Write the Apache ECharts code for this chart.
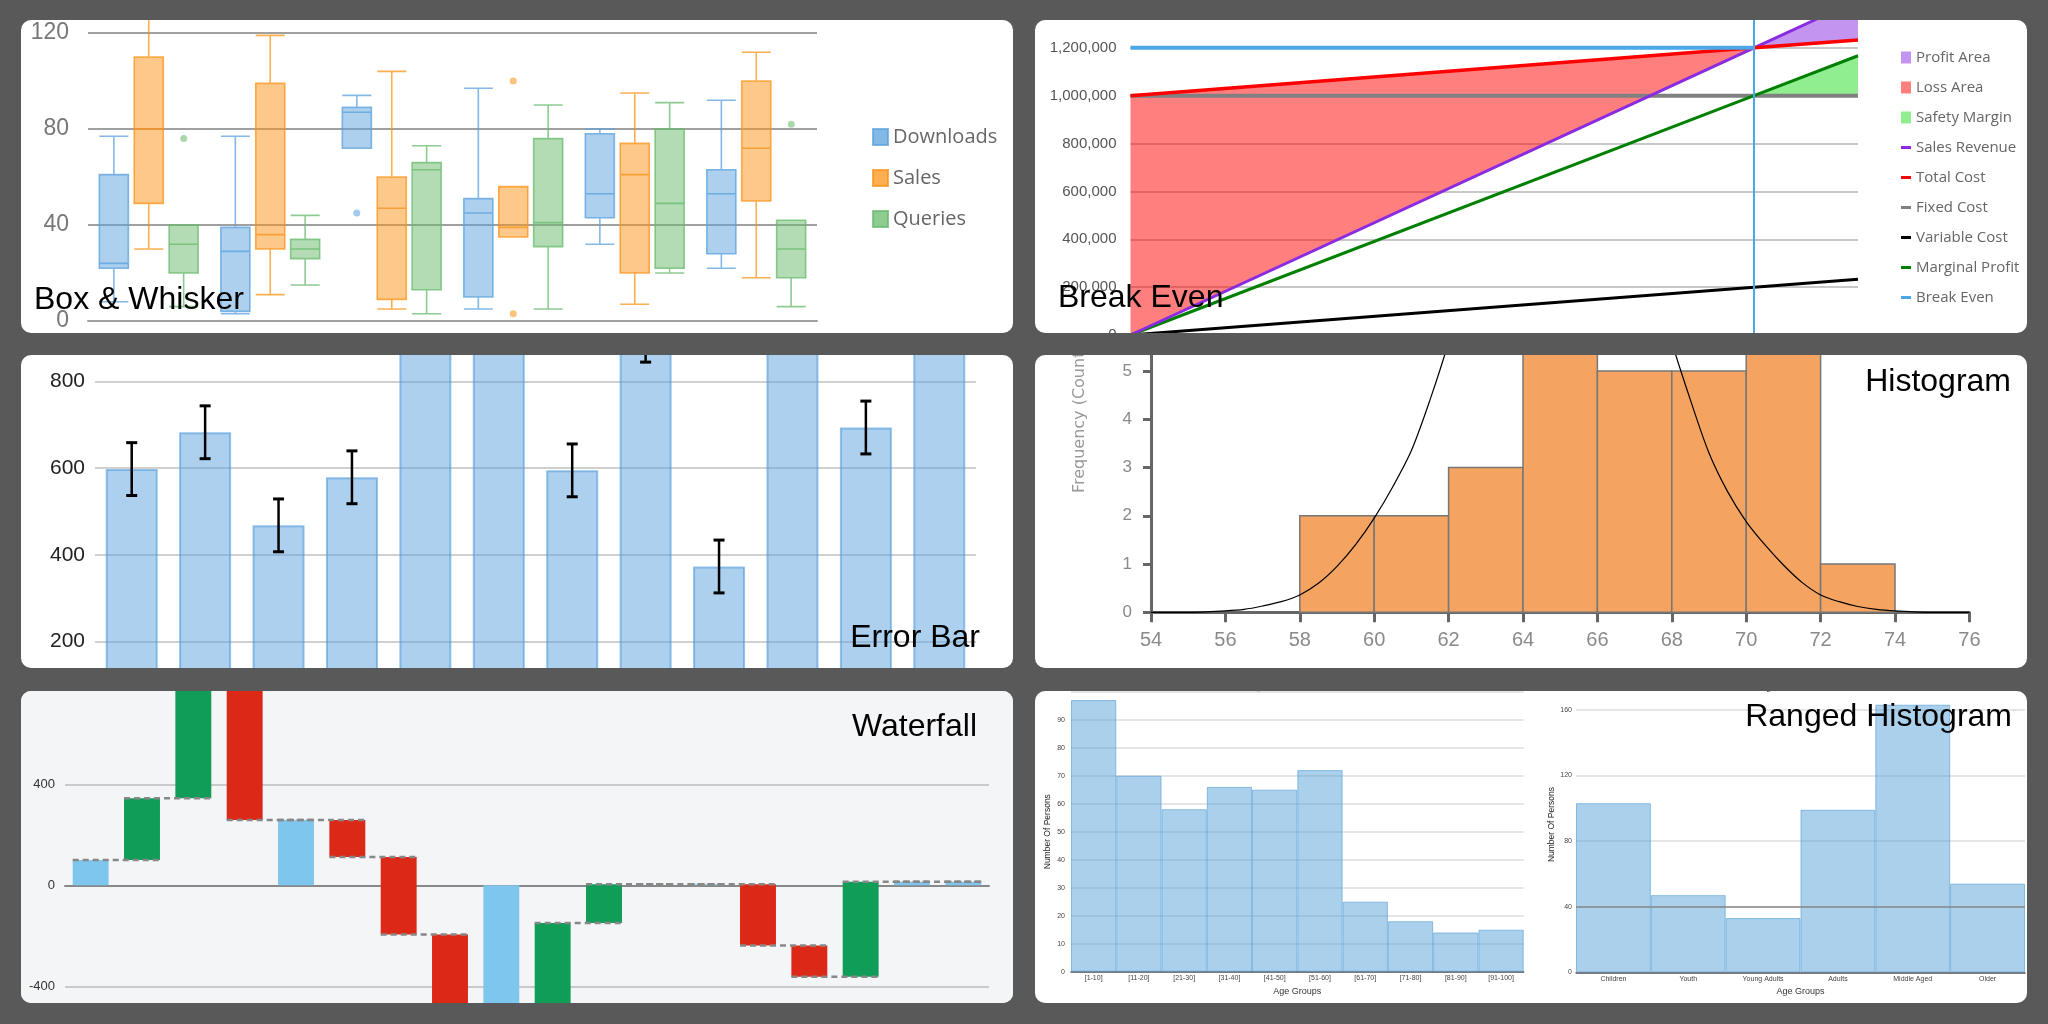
<!DOCTYPE html>
<html><head><meta charset="utf-8">
<script src="https://cdn.jsdelivr.net/npm/echarts@6/dist/echarts.min.js"></script>
<style>
html,body{margin:0;padding:0;background:#595959;width:2048px;height:1024px;overflow:hidden}
.panel{position:absolute;background:#fff;border-radius:10px;overflow:hidden}
.panel > div{position:absolute;left:0;top:0;width:100%;height:100%}
.panel > div.tall{top:-200px;height:calc(100% + 400px)}
</style></head><body>
<div class="panel" style="left:21px;top:20px;width:992px;height:313px"><div id="c1"></div></div>
<div class="panel" style="left:1035px;top:20px;width:992px;height:313px"><div id="c2" class="tall"></div></div>
<div class="panel" style="left:21px;top:355px;width:992px;height:313px"><div id="c3" class="tall"></div></div>
<div class="panel" style="left:1035px;top:355px;width:992px;height:313px"><div id="c4" class="tall"></div></div>
<div class="panel" style="left:21px;top:691px;width:992px;height:312px;background:#f4f5f7"><div id="c5" class="tall"></div></div>
<div class="panel" style="left:1035px;top:691px;width:992px;height:312px"><div id="c6"></div></div>
<script>
// ---------- Box & Whisker data ([min, Q1, median, Q3, max]) ----------
const boxCategories = ['Group 1','Group 2','Group 3','Group 4','Group 5','Group 6'];
const downloadsBox = [[8,22,24,61,77],[3,4,29,39,77],[72,72,87,89,94],[5,10,45,51,97],[32,43,53,78,80],[22,28,53,63,92]];
const salesBox = [[30,49,80,110,135],[11,30,36,99,119],[5,9,47,60,104],[35,35,39,56,56],[7,20,61,74,95],[18,50,72,100,112]];
const queriesBox = [[6,20,32,40,40],[15,26,30,34,44],[3,13,63,66,73],[5,31,41,76,90],[20,22,49,80,91],[6,18,30,42,42]];
const downloadsOutliers = [[2,45]];
const salesOutliers = [[3,100],[3,3]];
const queriesOutliers = [[0,76],[5,82]];

// ---------- Break Even data ----------
const beUnits = [0, 6000, 7000];
const beSalesRevenue = [0, 1200000, 1400000];
const beTotalCost = [1000000, 1200000, 1233000];
const beFixedCost = [1000000, 1000000, 1000000];
const beVariableCost = [0, 200000, 233000];
const beMarginalProfit = [0, 1000000, 1167000];
const beBreakEvenUnits = 6000;
const beBreakEvenRevenue = 1200000;

// ---------- Error Bar data ----------
const ebCategories = ['Jan','Feb','Mar','Apr','May','Jun','Jul','Aug','Sep','Oct','Nov','Dec'];
const ebValues = [598, 683, 468, 579, 960, 1000, 595, 906, 373, 980, 694, 1020];
const ebErrors = [61, 61, 61, 61, 61, 61, 61, 61, 61, 61, 61, 61];

// ---------- Histogram data ----------
const histBinStarts = [58, 60, 62, 64, 66, 68, 70, 72];
const histBinEnds = [60, 62, 64, 66, 68, 70, 72, 74];
const histCounts = [2, 2, 3, 6, 5, 5, 6, 1];
const curveX = [54,55,56,56.5,57,57.5,58,58.5,59,59.5,60,60.5,61,61.5,62,62.5,63,63.5,64,64.5,65,65.5,66,66.5,67,67.5,68,68.5,69,69.5,70,70.5,71,71.5,72,72.5,73,73.5,74,75,76];
const curveY = [0,0,0.03,0.06,0.13,0.22,0.36,0.6,0.95,1.4,1.95,2.6,3.35,4.4,5.6,7.0,8.4,9.6,10.5,11.1,11.3,11.1,10.5,9.6,8.4,7.0,5.6,4.4,3.3,2.5,1.88,1.4,0.98,0.62,0.36,0.22,0.12,0.06,0.03,0,0];

// ---------- Waterfall data ----------
const wfCategories = ['C1','C2','C3','C4','C5','C6','C7','C8','C9','C10','C11','C12','C13','C14','C15','C16','C17','C18'];
const wfTypes = ['total','inc','inc','dec','total','dec','dec','dec','total','inc','inc','inc','total','dec','dec','inc','total','total'];
const wfLevels = [100, 345, 800, 259, 259, 112, -195, -520, -520, -149, 4, 4, 4, -238, -362, 14, 14, 14];

// ---------- Ranged Histogram data ----------
const ageRanges = ['[1-10]','[11-20]','[21-30]','[31-40]','[41-50]','[51-60]','[61-70]','[71-80]','[81-90]','[91-100]'];
const ageRangeCounts = [97, 70, 58, 66, 65, 72, 25, 18, 14, 15];
const ageGroups = ['Children','Youth','Young Adults','Adults','Middle Aged','Older'];
const ageGroupCounts = [103, 47, 33, 99, 163, 54];
const ageGroupRefLine = 40;

const OFF = 200; // extra canvas above/below the panel for the tall chart containers
const TITLE_FONT = "'Liberation Sans', Arial, sans-serif";
const NARROW = "'Liberation Sans Narrow', 'Liberation Sans', sans-serif";
function titleText(text, x, y, align) {
  return {type:'text', x:x, y:y, z:100, style:{text:text, fontSize:32, fontFamily:TITLE_FONT, fill:'#000', align:align, verticalAlign:'middle'}};
}
const LINE_ICON = 'path://M0,0M10,12M0,4.5L10,4.5L10,7.5L0,7.5Z';

// ================= Chart 1: Box & Whisker =================
(function(){
  const c = echarts.init(document.getElementById('c1'));
  const blue = 'rgba(89,161,221,', orange = 'rgba(251,147,23,', green = 'rgba(103,185,107,';
  function box(name, data, col) {
    return {name:name, type:'boxplot', data:data, boxWidth:[29,29], z:2,
      itemStyle:{color:col+'0.5)', borderColor:col+'0.75)', borderWidth:1.6}};
  }
  function outl(data, col, off) {
    return {type:'scatter', data:data, symbolSize:7, symbolOffset:[off,0], z:3,
      itemStyle:{color:col+'0.7)'}};
  }
  c.setOption({
    animation:false,
    grid:{left:67, right:196, top:13, bottom:12, outerBoundsMode:'none'},
    legend:{orient:'vertical', left:846, top:102, itemWidth:15, itemHeight:16, itemGap:21, icon:'rect',
      textStyle:{fontFamily:"'Open Sans', sans-serif", fontSize:20, color:'#666'},
      data:['Downloads','Sales','Queries']},
    xAxis:{type:'category', data:boxCategories,
      axisLine:{lineStyle:{color:'#a0a0a0', width:2}},
      axisTick:{alignWithLabel:true, length:6, lineStyle:{color:'#a0a0a0', width:1.5}},
      axisLabel:{show:false}, splitLine:{show:false}},
    yAxis:{type:'value', min:0, max:120, interval:40,
      axisLine:{show:false}, axisTick:{show:false},
      axisLabel:{fontFamily:NARROW, fontSize:23, color:'#777', margin:19},
      splitLine:{lineStyle:{color:'#a0a0a0', width:2}}},
    graphic:[titleText('Box & Whisker', 13, 280, 'left')],
    series:[
      box('Downloads', downloadsBox, blue),
      box('Sales', salesBox, orange),
      box('Queries', queriesBox, green),
      outl(downloadsOutliers, blue, -35),
      outl(salesOutliers, orange, 0),
      outl(queriesOutliers, green, 35)
    ]
  });
})();

// ================= Chart 2: Break Even =================
(function(){
  const c = echarts.init(document.getElementById('c2'));
  function pairs(ys) { return beUnits.map((u,i)=>[u, ys[i]]); }
  function poly(name, pts, color) {
    return {name:name, type:'custom', data:[[pts[0][0], pts[0][1]]], itemStyle:{color:color}, z:1,
      renderItem:function(params, api){
        return {type:'polygon', shape:{points:pts.map(p=>api.coord(p))}, style:{fill:color}};
      }};
  }
  function line(name, ys, color, width) {
    return {name:name, type:'line', data:pairs(ys), symbol:'none', z:3,
      lineStyle:{color:color, width:width}, itemStyle:{color:color}};
  }
  const lossPts = [[beUnits[0], beTotalCost[0]], [beUnits[1], beTotalCost[1]], [beUnits[0], beSalesRevenue[0]]];
  const profitPts = [[beUnits[1], beSalesRevenue[1]], [beUnits[2], beSalesRevenue[2]], [beUnits[2], beTotalCost[2]]];
  const safetyPts = [[beUnits[1], beFixedCost[1]], [beUnits[2], beMarginalProfit[2]], [beUnits[2], beFixedCost[2]]];
  const lineNames = ['Sales Revenue','Total Cost','Fixed Cost','Variable Cost','Marginal Profit','Break Even'];
  c.setOption({
    animation:false,
    grid:{left:95.5, right:169, top:-20+OFF, bottom:-2+OFF, outerBoundsMode:'none'},
    legend:{orient:'vertical', left:861, top:25+OFF, itemWidth:10, itemHeight:12, itemGap:15,
      textStyle:{fontFamily:"'Open Sans', sans-serif", fontSize:15, color:'#666'},
      data:[{name:'Profit Area', icon:'rect'},{name:'Loss Area', icon:'rect'},{name:'Safety Margin', icon:'rect'}]
        .concat(lineNames.map(n=>({name:n, icon:LINE_ICON})))},
    xAxis:{type:'value', min:0, max:7000, show:false},
    yAxis:{type:'value', min:0, max:1400000, interval:200000,
      axisLine:{show:false}, axisTick:{show:false},
      axisLabel:{fontFamily:"'Liberation Sans', sans-serif", fontSize:15, color:'#555', margin:14,
        formatter:function(v){ return v.toLocaleString('en-US'); }},
      splitLine:{lineStyle:{color:'#c8c8c8', width:2}}},
    graphic:[titleText('Break Even', 23, 278+OFF, 'left')],
    series:[
      poly('Profit Area', profitPts, 'rgba(138,43,226,0.5)'),
      poly('Loss Area', lossPts, 'rgba(255,0,0,0.5)'),
      poly('Safety Margin', safetyPts, '#90ee90'),
      line('Fixed Cost', beFixedCost, '#808080', 4),
      line('Variable Cost', beVariableCost, '#000000', 3),
      line('Marginal Profit', beMarginalProfit, '#008000', 3),
      line('Sales Revenue', beSalesRevenue, '#8a2be2', 3),
      line('Total Cost', beTotalCost, '#ff0000', 3.5),
      {name:'Break Even', type:'line', symbol:'none', z:4,
        data:[[beUnits[0], beBreakEvenRevenue], [beBreakEvenUnits, beBreakEvenRevenue]],
        lineStyle:{color:'#4aa8e8', width:4}, itemStyle:{color:'#4aa8e8'},
        markLine:{silent:true, symbol:'none', label:{show:false},
          lineStyle:{color:'#4aa8e8', width:2, type:'solid'}, data:[{xAxis:beBreakEvenUnits}]}}
    ]
  });
})();

// ================= Chart 3: Error Bar =================
(function(){
  const c = echarts.init(document.getElementById('c3'));
  c.setOption({
    animation:false,
    grid:{left:74, right:37, top:-60+OFF, bottom:-60+OFF, outerBoundsMode:'none'},
    xAxis:{type:'category', data:ebCategories, axisLine:{show:false}, axisTick:{show:false}, axisLabel:{show:false}},
    yAxis:{type:'value', min:0, max:1000, interval:200,
      axisLine:{show:false}, axisTick:{show:false},
      axisLabel:{fontFamily:"'Liberation Sans', sans-serif", fontSize:21, color:'#222', margin:10},
      splitLine:{lineStyle:{color:'#d0d0d0', width:2}}},
    graphic:[titleText('Error Bar', 959, 283+OFF, 'right')],
    series:[
      {type:'bar', data:ebValues, barWidth:52,
        itemStyle:{color:'rgba(89,161,221,0.5)', borderColor:'rgba(80,155,220,0.6)', borderWidth:2}},
      {type:'custom', z:10, encode:{x:0, y:[1,2]},
        data:ebValues.map((v,i)=>[i, v - ebErrors[i], v + ebErrors[i]]),
        renderItem:function(params, api){
          const x = api.value(0);
          const lo = api.coord([x, api.value(1)]);
          const hi = api.coord([x, api.value(2)]);
          const hw = 5.5;
          return {type:'group', children:[
            {type:'line', shape:{x1:lo[0], y1:lo[1], x2:hi[0], y2:hi[1]}, style:{stroke:'#000', lineWidth:2.5}},
            {type:'line', shape:{x1:lo[0]-hw, y1:lo[1], x2:lo[0]+hw, y2:lo[1]}, style:{stroke:'#000', lineWidth:3}},
            {type:'line', shape:{x1:hi[0]-hw, y1:hi[1], x2:hi[0]+hw, y2:hi[1]}, style:{stroke:'#000', lineWidth:3}}
          ]};
        }}
    ]
  });
})();

// ================= Chart 4: Histogram =================
(function(){
  const c = echarts.init(document.getElementById('c4'));
  c.setOption({
    animation:false,
    grid:{left:116, right:57.6, top:-128.9+OFF, bottom:55.7+OFF, outerBoundsMode:'none'},
    xAxis:{type:'value', min:54, max:76, interval:2,
      axisLine:{lineStyle:{color:'#666', width:3}},
      axisTick:{length:10, lineStyle:{color:'#666', width:3}},
      axisLabel:{fontFamily:"'Liberation Sans', sans-serif", fontSize:20, color:'#8a8a8a', margin:18},
      splitLine:{show:false}},
    yAxis:{type:'value', min:0, max:8, interval:1,
      name:'Frequency (Count)', nameLocation:'middle', nameGap:63,
      nameTextStyle:{fontFamily:"'DejaVu Sans', sans-serif", fontSize:16, color:'#999'},
      axisLine:{show:true, lineStyle:{color:'#666', width:3}},
      axisTick:{show:true, length:8, lineStyle:{color:'#666', width:3}},
      axisLabel:{fontFamily:"'Liberation Sans', sans-serif", fontSize:17, color:'#8a8a8a', margin:19},
      splitLine:{show:false}},
    graphic:[titleText('Histogram', 976, 27+OFF, 'right')],
    series:[
      {type:'custom', encode:{x:[0,1], y:2}, z:2,
        data:histCounts.map((n,i)=>[histBinStarts[i], histBinEnds[i], n]),
        renderItem:function(params, api){
          const p0 = api.coord([api.value(0), 0]);
          const p1 = api.coord([api.value(1), api.value(2)]);
          return {type:'rect', shape:{x:p0[0], y:p1[1], width:p1[0]-p0[0], height:p0[1]-p1[1]},
            style:{fill:'#f4a460', stroke:'#777', lineWidth:1.5}};
        }},
      {type:'line', data:curveX.map((x,i)=>[x, curveY[i]]), smooth:0.3, symbol:'none', z:5,
        lineStyle:{color:'#000', width:1.2}}
    ]
  });
})();

// ================= Chart 5: Waterfall =================
(function(){
  const c = echarts.init(document.getElementById('c5'));
  const colors = {total:'#7fc6ee', inc:'#0f9d58', dec:'#dc2917'};
  const n = wfLevels.length;
  c.setOption({
    animation:false,
    backgroundColor:'#f4f5f7',
    grid:{left:44, right:24, top:-7.7+OFF, bottom:-84.3+OFF, outerBoundsMode:'none'},
    xAxis:{type:'category', data:wfCategories,
      axisLine:{onZero:true, lineStyle:{color:'#888', width:2}},
      axisTick:{show:false}, axisLabel:{show:false}},
    yAxis:{type:'value', min:-800, max:800, interval:400,
      axisLine:{show:false}, axisTick:{show:false},
      axisLabel:{fontFamily:"'Liberation Sans', sans-serif", fontSize:13, color:'#333', margin:10},
      splitLine:{lineStyle:{color:'#bbb', width:1.5}}},
    graphic:[titleText('Waterfall', 956, 36+OFF, 'right')],
    series:[
      {type:'custom', encode:{x:0, y:[1,2]}, z:2,
        data:wfLevels.map((v,i)=>[i, wfTypes[i]==='total' ? 0 : wfLevels[i-1], v]),
        renderItem:function(params, api){
          const i = api.value(0);
          const a = api.coord([i, api.value(1)]);
          const b = api.coord([i, api.value(2)]);
          const w = api.size([1,0])[0] * 0.7;
          return {type:'rect', shape:{x:a[0]-w/2, y:Math.min(a[1],b[1]), width:w, height:Math.abs(a[1]-b[1])},
            style:{fill:colors[wfTypes[params.dataIndex]]}};
        }},
      {type:'custom', encode:{x:0, y:1}, z:3,
        data:wfLevels.map((v,i)=>[i, v]),
        renderItem:function(params, api){
          const i = api.value(0);
          const p = api.coord([i, api.value(1)]);
          const band = api.size([1,0])[0];
          const hw = band * 0.35;
          const x2 = (params.dataIndex < n-1) ? p[0] + band + hw : p[0] + hw;
          return {type:'line', shape:{x1:p[0]-hw, y1:p[1], x2:x2, y2:p[1]},
            style:{stroke:'#888', lineWidth:2.5, lineDash:[6,4]}};
        }}
    ]
  });
})();

// ================= Chart 6: Ranged Histogram =================
(function(){
  const c = echarts.init(document.getElementById('c6'));
  const barStyle = {color:'rgba(87,161,217,0.5)', borderColor:'rgba(87,161,217,0.65)', borderWidth:1};
  const small = "'Liberation Sans', sans-serif";
  function xAx(idx, data) {
    return {type:'category', gridIndex:idx, data:data,
      axisLine:{lineStyle:{color:'#555', width:1.5}}, axisTick:{show:false},
      axisLabel:{fontFamily:small, fontSize:7, color:'#444', margin:3, interval:0},
      name:'Age Groups', nameLocation:'middle', nameGap:13,
      nameTextStyle:{fontFamily:small, fontSize:9, color:'#333'}};
  }
  function yAx(idx, max, interval, gap, margin) {
    return {type:'value', gridIndex:idx, min:0, max:max, interval:interval,
      axisLine:{show:false}, axisTick:{show:false},
      axisLabel:{fontFamily:small, fontSize:7, color:'#444', margin:margin, showMaxLabel:false},
      splitLine:{lineStyle:{color:'#dcdcdc', width:1.5}},
      name:'Number Of Persons', nameLocation:'middle', nameGap:gap,
      nameTextStyle:{fontFamily:small, fontSize:8.5, color:'#222'}};
  }
  c.setOption({
    animation:false,
    grid:[{left:36, right:503.3, top:0.7, bottom:31.3, outerBoundsMode:'none'},
          {left:541, right:2, top:-14.2, bottom:30.7, outerBoundsMode:'none'}],
    xAxis:[xAx(0, ageRanges), xAx(1, ageGroups)],
    yAxis:[yAx(0, 100, 10, 19, 6), yAx(1, 180, 40, 16, 4)],
    graphic:[
      {type:'text', x:247, y:-3, style:{text:'Age Distribution', fontSize:9, fontFamily:small, fill:'#333', align:'center', verticalAlign:'middle'}},
      {type:'text', x:757, y:-3, style:{text:'Age Distribution', fontSize:9, fontFamily:small, fill:'#333', align:'center', verticalAlign:'middle'}},
      titleText('Ranged Histogram', 977, 26, 'right')
    ],
    series:[
      {type:'bar', xAxisIndex:0, yAxisIndex:0, data:ageRangeCounts, barWidth:'100%', itemStyle:barStyle},
      {type:'bar', xAxisIndex:1, yAxisIndex:1, data:ageGroupCounts, barWidth:'100%', itemStyle:barStyle, clip:false,
        markLine:{silent:true, symbol:'none', label:{show:false},
          lineStyle:{color:'#8a8a8a', width:1.5, type:'solid'}, data:[{yAxis:ageGroupRefLine}]}}
    ]
  });
})();
</script>
</body></html>
